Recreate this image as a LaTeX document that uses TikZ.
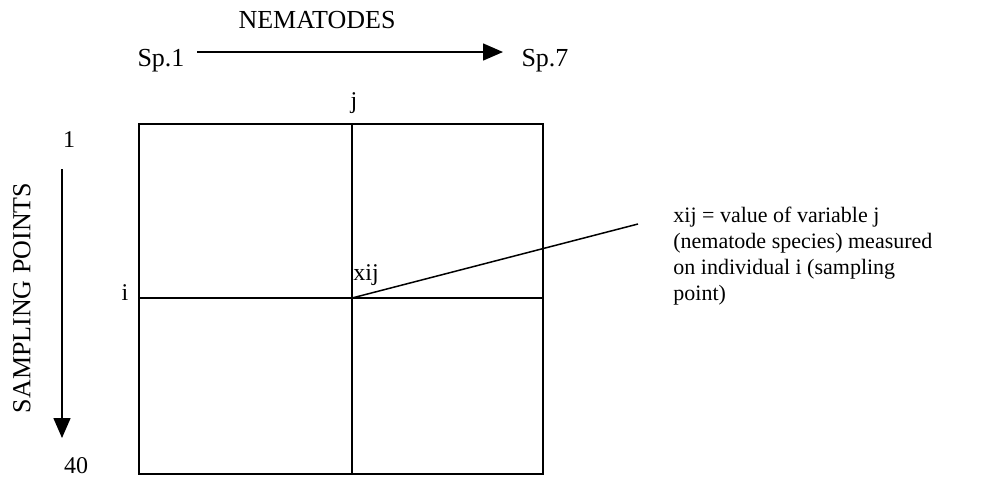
\documentclass[tikz,border=0pt]{standalone}
\usepackage{fontspec}
\setmainfont{Liberation Serif}
\usetikzlibrary{arrows.meta,positioning}
\tikzset{
  bigtxt/.style = {font=\fontsize{13}{15}\selectfont, inner sep=1pt},
  midtxt/.style = {font=\fontsize{12}{14}\selectfont, inner sep=1pt},
  note/.style   = {font=\fontsize{11}{13}\selectfont, align=left, inner sep=1pt},
  ar/.style     = {-{Triangle[length=10pt,width=8.5pt]}, line width=0.75pt},
  cell/.style   = {line width=0.8pt},
  ptr/.style    = {line width=0.75pt}
}

\begin{document}
\begin{tikzpicture}[x=0.5pt, y=-0.5pt]
\useasboundingbox (0,0) rectangle (1003,479);
% ---- data matrix ----
\coordinate (tl) at (139,124);
\coordinate (br) at (543,474);
\coordinate (xij) at (352,298);
\draw[cell] (tl) rectangle (br);
\draw[cell] (xij |- tl) -- (xij |- br);
\draw[cell] (xij -| tl) -- (xij -| br);

% ---- species axis ----
\node[bigtxt, anchor=base] (nem) at (317,28) {NEMATODES};
\node[bigtxt, anchor=base] (sp1) at (161,66) {Sp.1};
\node[bigtxt, anchor=base] (sp7) at (545,66) {Sp.7};
\coordinate (hs) at (197,52);
\coordinate (he) at (503,52);
\draw[ar] (hs) -- (he);
\node[midtxt, anchor=base] (colj) at (354,108) {j};

% ---- sampling axis ----
\node[bigtxt, rotate=90] (samp) at (22,298) {SAMPLING POINTS};
\node[midtxt, anchor=base] (first) at (69,147) {1};
\node[midtxt, anchor=base] (last) at (76,473) {40};
\coordinate (vs) at (62,169);
\coordinate (ve) at (62,438);
\draw[ar] (vs) -- (ve);
\node[midtxt, anchor=base] (rowi) at (125,300) {i};

% ---- element and its note ----
\node[midtxt, anchor=base west] (lblxij) at (351,280) {xij};
\coordinate (tip) at (638,224);
\draw[ptr] (xij) -- (tip);
\node[note, anchor=base west] (expl) at (671,300)
  {xij = value of variable j\\(nematode species) measured\\on individual i (sampling\\point)};
\end{tikzpicture}
\end{document}
